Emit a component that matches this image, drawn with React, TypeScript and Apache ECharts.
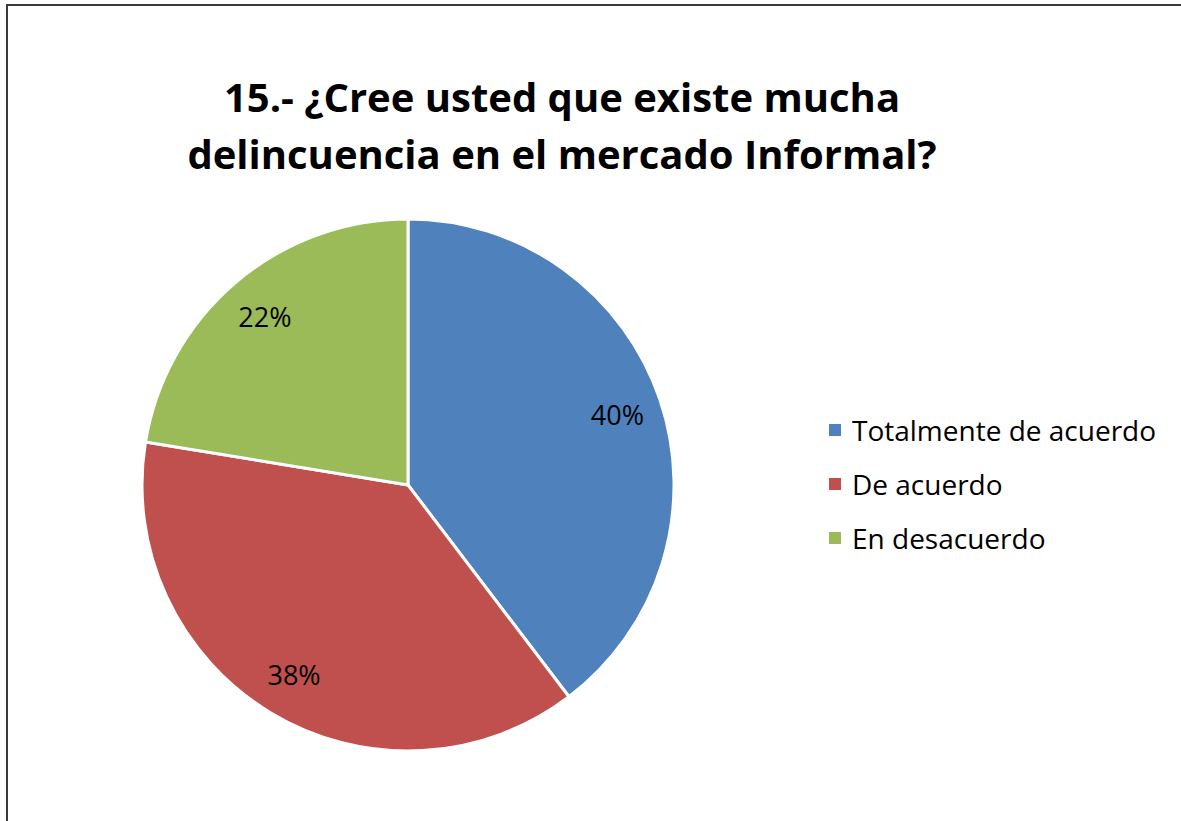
import React, { useEffect, useRef } from "react";
import * as echarts from "echarts";

const titleLines = ["15.- ¿Cree usted que existe mucha", "delincuencia en el mercado Informal?"];
const categories = ["Totalmente de acuerdo", "De acuerdo", "En desacuerdo"];
const values = [23, 22, 13];
const colors = ["#4F81BD", "#C0504D", "#9BBB59"];

export default function App() {
  const ref = useRef<HTMLDivElement>(null);
  useEffect(() => {
    if (!ref.current) return;
    const chart = echarts.init(ref.current, undefined, { renderer: "svg" });
    const data = categories.map((name, i) => ({ name, value: values[i], itemStyle: { color: colors[i] } }));
    chart.setOption({
      animation: false,
      backgroundColor: "#ffffff",
      title: {
        text: titleLines.join("\n"),
        left: 557,
        top: 63,
        textAlign: "center",
        textStyle: { fontFamily: "Open Sans", fontWeight: "bold", fontSize: 40, lineHeight: 57, color: "#000" },
      },
      legend: {
        orient: "vertical",
        left: 827,
        top: 415,
        padding: 0,
        icon: "rect",
        itemWidth: 14,
        itemHeight: 14,
        itemGap: 24,
        data: categories.map((name, i) => ({ name, itemStyle: { color: colors[i] } })),
        textStyle: { fontFamily: "Open Sans", fontSize: 28, lineHeight: 30, color: "#000", padding: [0, 0, 0, 5] },
      },
      graphic: [
        {
          type: "rect",
          shape: { x: 7, y: 5, width: 1400, height: 1000 },
          style: { fill: "none", stroke: "#3a3a3a", lineWidth: 2 },
          silent: true,
        },
      ],
      series: [
        {
          type: "pie",
          center: [408, 485],
          radius: 266,
          startAngle: 90,
          clockwise: true,
          label: { show: false },
          labelLine: { show: false },
          itemStyle: { borderColor: "#ffffff", borderWidth: 3 },
          emphasis: { disabled: true },
          data,
        },
        {
          type: "pie",
          center: [408, 485],
          radius: [170, 266],
          startAngle: 90,
          clockwise: true,
          silent: true,
          percentPrecision: 0,
          z: 5,
          itemStyle: { color: "rgba(0,0,0,0)", borderWidth: 0 },
          label: {
            show: true,
            position: "inside",
            formatter: "{d}%",
            fontFamily: "Open Sans",
            fontSize: 27,
            color: "#000",
          },
          labelLine: { show: false },
          emphasis: { disabled: true },
          data: categories.map((name, i) => ({ name, value: values[i] })),
        },
      ],
    });
    return () => chart.dispose();
  }, []);
  return (
    <div
      ref={ref}
      style={{ position: "fixed", left: 0, top: 0, width: 1181, height: 821, background: "#fff" }}
    />
  );
}
